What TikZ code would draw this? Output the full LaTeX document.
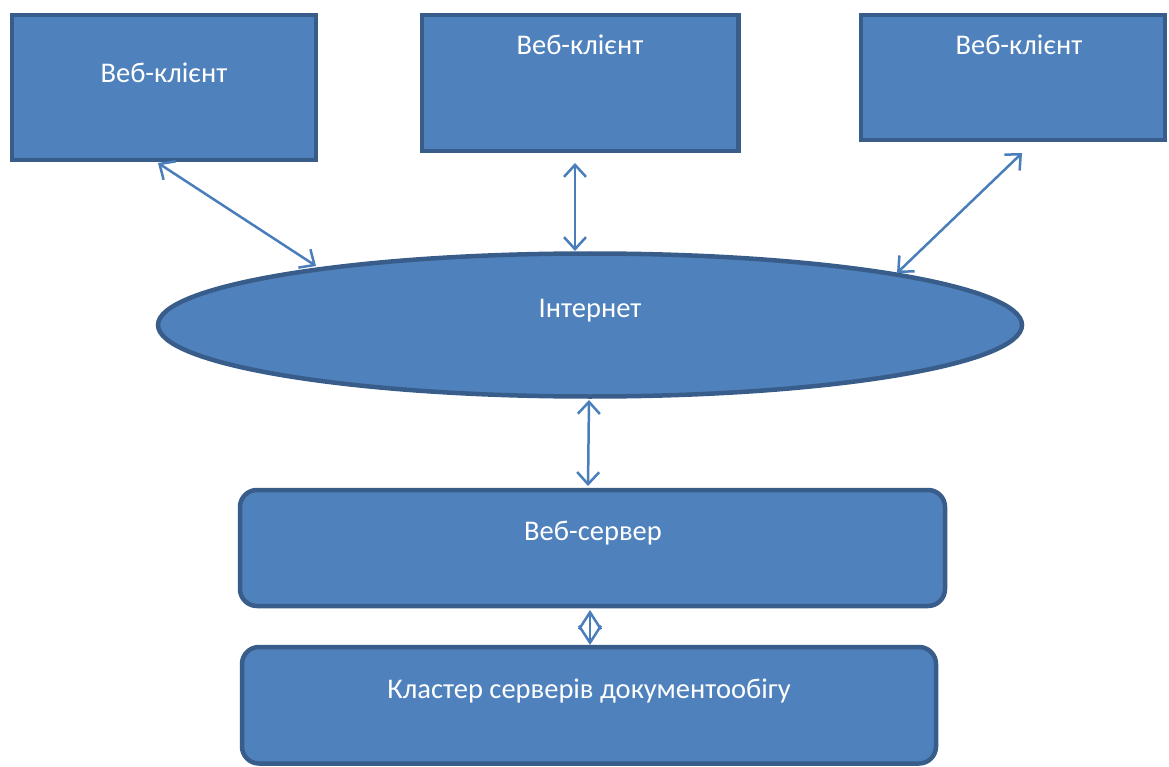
\documentclass[tikz,border=0pt]{standalone}
\usepackage{fontspec}
\setmainfont{Carlito}
\usetikzlibrary{arrows.meta}
\definecolor{boxfill}{HTML}{4F81BD}
\definecolor{boxline}{HTML}{385D8A}
\definecolor{arrowc}{HTML}{4A7EBB}
\tikzset{
  box/.style={draw=boxline, fill=boxfill, line width=4.5pt},
  rbox/.style={box, rounded corners=17pt},
  lbl/.style={text=white, font=\fontsize{28.5}{32}\selectfont, inner sep=0pt},
  link/.style={draw=arrowc, line width=2.5pt, {Straight Barb[length=12pt,width=22pt,line width=2.5pt]}-{Straight Barb[length=12pt,width=22pt,line width=2.5pt]}},
  dlink/.style={draw=arrowc, line width=2.5pt, {Straight Barb[length=17pt,width=22pt,line width=2.5pt]}-{Straight Barb[length=17pt,width=22pt,line width=2.5pt]}}
}
\begin{document}
\begin{tikzpicture}[x=1pt,y=-1pt]
\useasboundingbox (0,0) rectangle (1169,767);
% clients
\draw[box] (12,15) rectangle (316,160);
\node[lbl] (t1) at (164,73) {Веб-клієнт};
\draw[box] (422,15) rectangle (738.5,151);
\node[lbl] (t2) at (580,45) {Веб-клієнт};
\draw[box] (861,15) rectangle (1165,140);
\node[lbl] (t3) at (1019,45) {Веб-клієнт};
% internet
\draw[box] (590,325) ellipse (432 and 71.5);
\node[lbl] (ti) at (590,311) {Інтернет};
% server
\draw[rbox] (240,490) rectangle (945,606);
\node[lbl] (ts) at (593,533) {Веб-сервер};
% cluster
\draw[rbox] (242,647) rectangle (936,763.5);
\node[lbl] (tc) at (589,691) {Кластер серверів документообігу};
% connectors
\coordinate (a1s) at (158,163); \coordinate (a1e) at (316,266);
\coordinate (a2s) at (575,163); \coordinate (a2e) at (575,251);
\coordinate (a3s) at (1022,153); \coordinate (a3e) at (897,273);
\coordinate (a4s) at (589,400); \coordinate (a4e) at (588,486);
\coordinate (a5s) at (590,610); \coordinate (a5e) at (590,645);
\draw[link] (a1s) -- (a1e);
\draw[link] (a2s) -- (a2e);
\draw[link] (a3s) -- (a3e);
\draw[link] (a4s) -- (a4e);
\draw[dlink] (a5s) -- (a5e);
\end{tikzpicture}
\end{document}
